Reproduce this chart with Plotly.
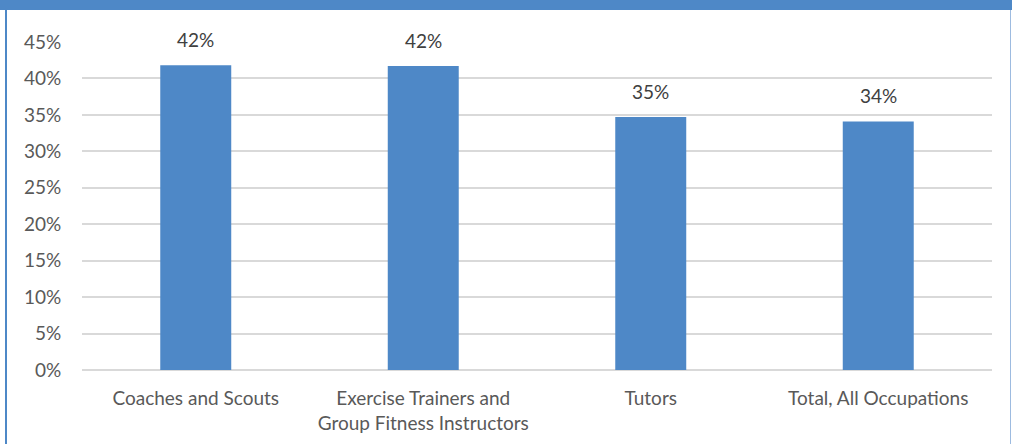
import plotly.graph_objects as go

# ── Data ──────────────────────────────────────────────────────────
categories = [
    "Coaches and Scouts",
    "Exercise Trainers and<br>Group Fitness Instructors",
    "Tutors",
    "Total, All Occupations",
]
values = [41.8, 41.7, 34.7, 34.1]
labels = ["42%", "42%", "35%", "34%"]
y_ticks = [0, 5, 10, 15, 20, 25, 30, 35, 40, 45]
y_tick_text = [f"{t}%" for t in y_ticks]

BLUE = "#4E88C7"
TEXT = "#595959"
GRID = "#D9D9D9"
FONT = "Lato, Open Sans, sans-serif"

W, H = 1012, 444
L, R, T, B = 82, 20, 42, 74
pw, ph = W - L - R, H - T - B


def px_x(x):
    return (x - L) / pw


def px_y(y):
    return (H - B - y) / ph


fig = go.Figure()
fig.add_trace(go.Bar(
    x=categories, y=values,
    marker=dict(color=BLUE, line=dict(width=0)),
    width=0.312, hoverinfo="skip",
))

for c, v, t in zip(categories, values, labels):
    fig.add_annotation(
        x=c, y=v, text=t, showarrow=False, yanchor="bottom", yshift=12,
        font=dict(family=FONT, size=19, color="#404040"),
    )

# frame: thick band on top, thin borders at the sides
fig.add_shape(type="rect", xref="paper", yref="paper", layer="above",
              x0=px_x(0), x1=px_x(W), y0=px_y(10), y1=px_y(0),
              fillcolor=BLUE, line=dict(width=0))
fig.add_shape(type="rect", xref="paper", yref="paper", layer="above",
              x0=px_x(5), x1=px_x(7), y0=px_y(H), y1=px_y(10),
              fillcolor=BLUE, line=dict(width=0))
fig.add_shape(type="rect", xref="paper", yref="paper", layer="above",
              x0=px_x(1010), x1=px_x(1011), y0=px_y(H), y1=px_y(10),
              fillcolor="#9DBBE0", line=dict(width=0))

fig.update_layout(
    width=W, height=H,
    margin=dict(l=L, r=R, t=T, b=B),
    paper_bgcolor="white", plot_bgcolor="white",
    showlegend=False,
    font=dict(family=FONT, size=19, color=TEXT),
    xaxis=dict(
        automargin=False,
        showgrid=False, showline=False, zeroline=False,
        ticks="outside", ticklen=11, tickcolor="white",
        tickfont=dict(family=FONT, size=19, color=TEXT),
    ),
    yaxis=dict(
        automargin=False,
        range=[0, 45], tickvals=y_ticks, ticktext=y_tick_text,
        showgrid=True, gridcolor=GRID, gridwidth=1.5,
        zeroline=True, zerolinecolor=GRID, zerolinewidth=1.5,
        showline=False,
        ticks="outside", ticklen=16, tickcolor="white",
        tickfont=dict(family=FONT, size=19, color=TEXT),
    ),
)

fig.write_html(
    "out.html",
    config={"displayModeBar": False},
    post_script="document.body.style.margin='0';document.body.style.overflow='hidden';",
)
